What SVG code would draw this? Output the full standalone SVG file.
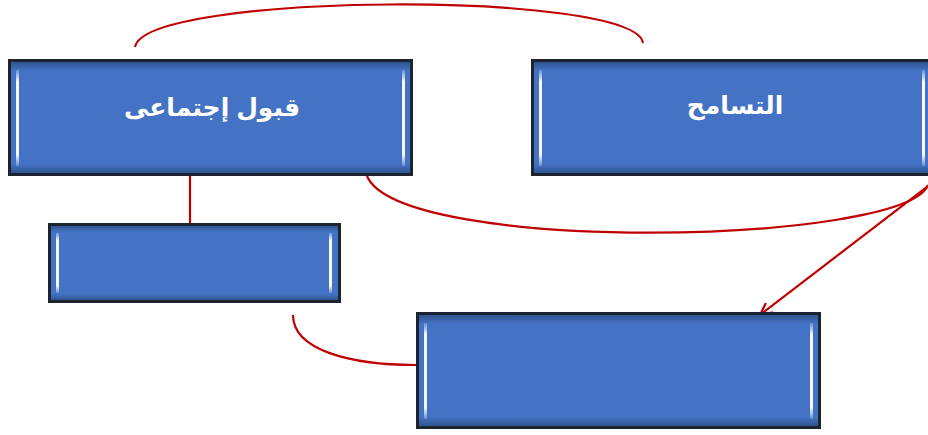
<svg xmlns="http://www.w3.org/2000/svg" width="928" height="435" viewBox="0 0 928 435">
<style>
.frame{fill:#1c2430;}
.face{fill:url(#faceGrad);}
.hl{fill:url(#hlGrad);}
.lbl{font-family:"Liberation Sans","DejaVu Sans",sans-serif;font-weight:bold;font-size:25px;fill:#ffffff;text-anchor:middle;dominant-baseline:central;}
.conn{fill:none;stroke:#C00000;stroke-width:2.2;}
</style>
<defs>
<linearGradient id="faceGrad" x1="0" y1="0" x2="0" y2="1">
<stop offset="0" stop-color="#2f558f"/>
<stop offset="0.08" stop-color="#4472C4"/>
<stop offset="0.92" stop-color="#4472C4"/>
<stop offset="1" stop-color="#2f558f"/>
</linearGradient>
<linearGradient id="hlGrad" x1="0" y1="0" x2="0" y2="1">
<stop offset="0" stop-color="#ffffff" stop-opacity="0.2"/>
<stop offset="0.12" stop-color="#ffffff" stop-opacity="0.95"/>
<stop offset="0.88" stop-color="#ffffff" stop-opacity="0.95"/>
<stop offset="1" stop-color="#ffffff" stop-opacity="0.2"/>
</linearGradient>
<marker id="arr" viewBox="0 0 14 14" refX="13" refY="7" markerWidth="14" markerHeight="14" markerUnits="userSpaceOnUse" orient="auto">
<polyline points="1,1 13,7 1,13" fill="none" stroke="#C00000" stroke-width="2.2"/>
</marker>
</defs>
<g id="connectors">
<path class="conn" d="M135,47 C145,-8 635,-10 643,43"/>
<path class="conn" d="M367,176 C400,255 905,245 928,185"/>
<path class="conn" d="M928,186 L760,315" marker-end="url(#arr)"/>
<path class="conn" d="M190,176 L190,223"/>
<path class="conn" d="M293,315 C293,350 350,365 416,365"/>
</g>
<g id="node-qubul">
<rect class="frame" x="8" y="59" width="405" height="117"/>
<rect class="face" x="11" y="62" width="399" height="111"/>
<rect class="hl" x="16" y="70" width="3" height="96"/>
<rect class="hl" x="402" y="70" width="3" height="96"/>
<text class="lbl" x="212" y="107">قبول إجتماعى</text>
</g>
<g id="node-tasamuh">
<rect class="frame" x="531" y="59" width="405" height="117"/>
<rect class="face" x="534" y="62" width="399" height="111"/>
<rect class="hl" x="539" y="70" width="3" height="96"/>
<rect class="hl" x="922" y="70" width="3" height="96"/>
<text class="lbl" x="735" y="105">التسامح</text>
</g>
<g id="node-empty1">
<rect class="frame" x="48" y="223" width="293" height="80"/>
<rect class="face" x="51" y="226" width="287" height="74"/>
<rect class="hl" x="56" y="233" width="3" height="60"/>
<rect class="hl" x="329" y="233" width="3" height="60"/>
</g>
<g id="node-empty2">
<rect class="frame" x="416" y="312" width="405" height="117"/>
<rect class="face" x="419" y="315" width="399" height="111"/>
<rect class="hl" x="424" y="323" width="3" height="96"/>
<rect class="hl" x="810" y="323" width="3" height="96"/>
</g>
</svg>
